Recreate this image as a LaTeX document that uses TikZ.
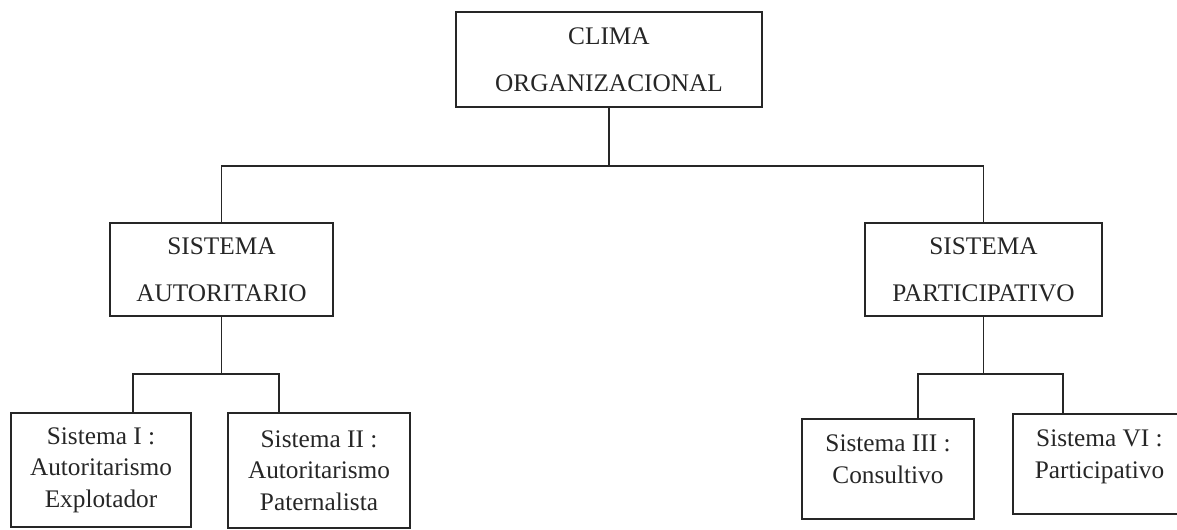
\documentclass[tikz,border=0pt]{standalone}
\usepackage{fontspec}
\setmainfont{Liberation Serif}
\definecolor{ink}{HTML}{262626}

\begin{document}
\begin{tikzpicture}[
  every node/.style={text=ink},
  topbox/.style={draw=ink, line width=1pt, align=center, font=\fontsize{14.4}{26.8}\selectfont},
  leafbox/.style={draw=ink, line width=1pt, align=center, font=\fontsize{14.4}{18}\selectfont},
  link/.style={ink, line width=1pt},
]

% Canvas
\useasboundingbox (0,0) rectangle (23.54,10.58);

% Top level
\node[topbox, minimum width=6.12cm, minimum height=1.90cm] (clima) at (12.18,9.39) {CLIMA\\ORGANIZACIONAL};

% Second level
\node[topbox, minimum width=4.46cm, minimum height=1.86cm] (autor) at (4.43,5.19) {SISTEMA\\AUTORITARIO};
\node[topbox, minimum width=4.74cm, minimum height=1.86cm] (partic) at (19.67,5.19) {SISTEMA\\PARTICIPATIVO};

% Leaves
\node[leafbox, minimum width=3.60cm, minimum height=2.28cm] (sis1) at (2.02,1.18) {Sistema I :\\Autoritarismo\\Explotador};
\node[leafbox, minimum width=3.64cm, minimum height=2.30cm] (sis2) at (6.38,1.17) {Sistema II :\\Autoritarismo\\Paternalista};
\node[leafbox, minimum width=3.44cm, minimum height=2.00cm] (sis3) at (17.76,1.20) {Sistema III :\\Consultivo\\[-7pt]\mbox{}};
\node[leafbox, minimum width=3.46cm, minimum height=2.00cm] (sis4) at (21.99,1.30) {Sistema VI :\\Participativo\\[-7pt]\mbox{}};

% Connectors
\draw[link] (clima.south) -- ++(0,-1.16) coordinate (top bus);
\draw[link] (autor.north) |- (top bus) -| (partic.north);

\draw[link] (autor.south) -- ++(0,-1.14) coordinate (left bus);
\draw[link] ([xshift=0.64cm]sis1.north) |- (left bus) -| ([xshift=-0.8cm]sis2.north);

\draw[link] (partic.south) -- ++(0,-1.14) coordinate (right bus);
\draw[link] ([xshift=0.6cm]sis3.north) |- (right bus) -| ([xshift=-0.73cm]sis4.north);

\end{tikzpicture}
\end{document}
